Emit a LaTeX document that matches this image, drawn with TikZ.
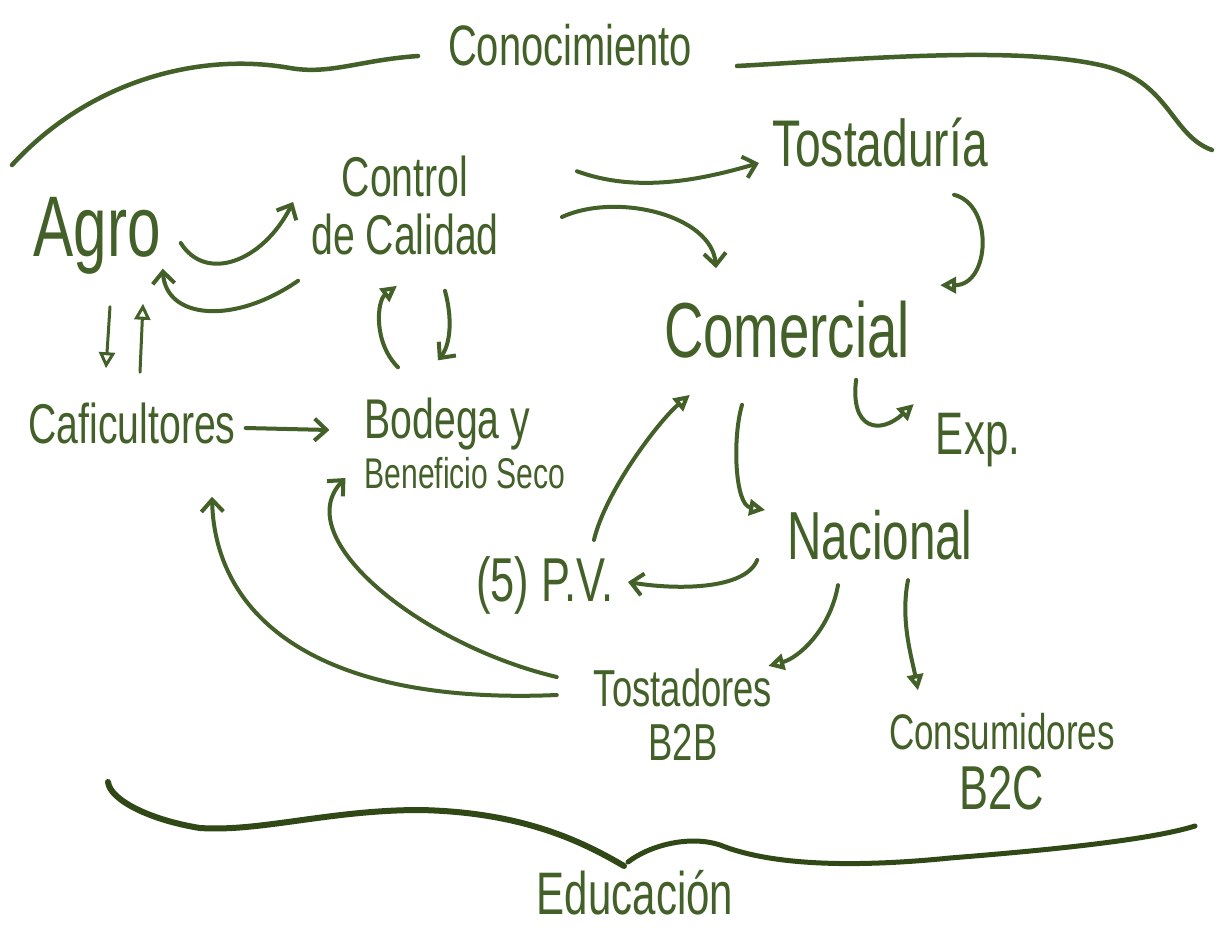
\documentclass[tikz,border=0pt]{standalone}
\usepackage{fontspec}
\setmainfont{Liberation Sans}[FakeStretch=0.7]
\usetikzlibrary{arrows.meta}
\definecolor{hand}{RGB}{66,96,40}
\definecolor{handdark}{RGB}{48,72,22}
\newcommand\hsz[1]{\fontsize{#1}{#1}\selectfont}
\begin{document}
\begin{tikzpicture}[x=1pt,y=-1pt,
  lbl/.style={inner sep=0pt,text=hand},
  conn/.style={draw=hand,line width=4pt,line cap=round},
  thinconn/.style={draw=hand,line width=3pt,line cap=round},
  barb/.style={-{Straight Barb[length=12pt,width=22pt]}},
  tri/.style={-{Triangle[open,length=16pt,width=16pt]}},
  brace/.style={draw=hand,line width=4.5pt,line cap=round}]
\useasboundingbox[fill=white] (0,0) rectangle (1224,930);

% nodes
\node[lbl,font=\hsz{57}] (know) at (570,45) {Conocimiento};
\node[lbl,font=\hsz{86}] (agro) at (97,236) {Agro};
\node[lbl,align=center,font=\fontsize{56}{58}\selectfont] (ctrl) at (405,205) {Control\\de Calidad};
\node[lbl,font=\hsz{66}] (tost) at (880,143) {Tostaduría};
\node[lbl,font=\hsz{78}] (com) at (787,330) {Comercial};
\node[lbl,font=\hsz{60}] (exp) at (978,440) {Exp.};
\node[lbl,font=\hsz{56}] (caf) at (132,423) {Caficultores};
\node[lbl,align=left,font=\fontsize{43}{50}\selectfont] (bod) at (465,443) {{\fontsize{56}{50}\selectfont Bodega y}\\Beneficio Seco};
\node[lbl,font=\hsz{62}] (pv) at (545,585) {(5) P.V.};
\node[lbl,font=\hsz{68}] (nac) at (880,535) {Nacional};
\node[lbl,align=center,font=\fontsize{52}{54}\selectfont] (b2b) at (683,715) {Tostadores\\B2B};
\node[lbl,align=center,font=\fontsize{50}{60}\selectfont] (b2c) at (1002,762) {Consumidores\\{\fontsize{62}{60}\selectfont B2C}};
\node[lbl,font=\hsz{60}] (edu) at (635,893) {Educación};

% braces
\draw[brace] (12,165) .. controls (90,80) and (200,52) .. (290,68) .. controls (330,75) and (360,60) .. (418,56);
\draw[brace] (737,66) .. controls (850,60) and (1010,45) .. (1100,65) .. controls (1170,80) and (1170,135) .. (1212,150);
\draw[brace,draw=handdark,line width=6pt] (108,782) .. controls (110,800) and (150,820) .. (200,828) .. controls (260,832) and (330,810) .. (420,810) .. controls (520,812) and (580,840) .. (624,866);
\draw[brace,draw=handdark,line width=5pt] (628,862) .. controls (650,845) and (690,835) .. (720,845) .. controls (770,865) and (850,868) .. (950,858) .. controls (1050,850) and (1150,840) .. (1195,826);

% connectors
\draw[conn,barb] ([shift={(20,7)}]agro.east) .. controls +(25,40) and +(-30,60) .. ([shift={(-18,-3)}]ctrl.west);
\draw[conn,barb] ([shift={(-13,26)}]ctrl.south west) .. controls +(-65,45) and +(3,50) .. ([shift={(2,-6)}]agro.south east);
\draw[thinconn,tri] ([shift={(13,32)}]agro.south) -- ([shift={(-26,-34)}]caf.north);
\draw[thinconn,tri] ([shift={(8,-30)}]caf.north) -- ([shift={(46,29)}]agro.south);
\draw[conn,tri] ([shift={(-67,-30)}]bod.north) .. controls +(-25,-25) and +(-20,15) .. ([shift={(-8,31)}]ctrl.south);
\draw[conn,barb] ([shift={(40,36)}]ctrl.south) .. controls +(8,30) and +(12,-15) .. ([shift={(-27,-37)}]bod.north);
\draw[conn,barb] ([shift={(10,5)}]caf.east) -- ([shift={(-35,-13)}]bod.west);
\draw[conn,barb] ([shift={(63,12)}]ctrl.east) .. controls +(55,-25) and +(-4,-53) .. ([shift={(-71,-33)}]com.north);
\draw[conn,barb] ([shift={(78,16)}]ctrl.north east) .. controls +(60,22) and +(-58,17) .. ([shift={(-13,20)}]tost.west);
\draw[conn,tri] ([shift={(-34,27)}]tost.south east) .. controls +(40,10) and +(50,0) .. ([shift={(30,-16)}]com.north east);
\draw[conn,tri] ([shift={(-54,21)}]com.south east) .. controls +(-6,50) and +(-34,31) .. ([shift={(-22,-36)}]exp.west);
\draw[conn,tri] ([shift={(-45,46)}]com.south) .. controls +(-10,35) and +(-30,-5) .. ([shift={(-22,-25)}]nac.west);
\draw[conn,barb] ([shift={(-30,25)}]nac.west) .. controls +(-12,30) and +(48,8) .. ([shift={(14,-3)}]pv.east);
\draw[conn,tri] ([shift={(-20,-16)}]pv.north east) .. controls +(12,-50) and +(-30,25) .. ([shift={(26,36)}]com.south west);
\draw[conn,tri] ([shift={(-42,25)}]nac.south) .. controls +(-8,45) and +(30,-8) .. ([shift={(-4,-3)}]b2b.north east);
\draw[conn,tri] ([shift={(28,20)}]nac.south) .. controls +(-8,40) and +(-6,-32) .. ([shift={(-84,-23)}]b2c.north);
\draw[conn,barb] ([shift={(-37,-38)}]b2b.west) .. controls +(-135,-32) and +(-58,60) .. ([shift={(-19,35)}]bod.west);
\draw[conn,barb] ([shift={(-37,-20)}]b2b.west) .. controls +(-235,10) and +(3,123) .. ([shift={(80,53)}]caf.south);
\end{tikzpicture}
\end{document}
